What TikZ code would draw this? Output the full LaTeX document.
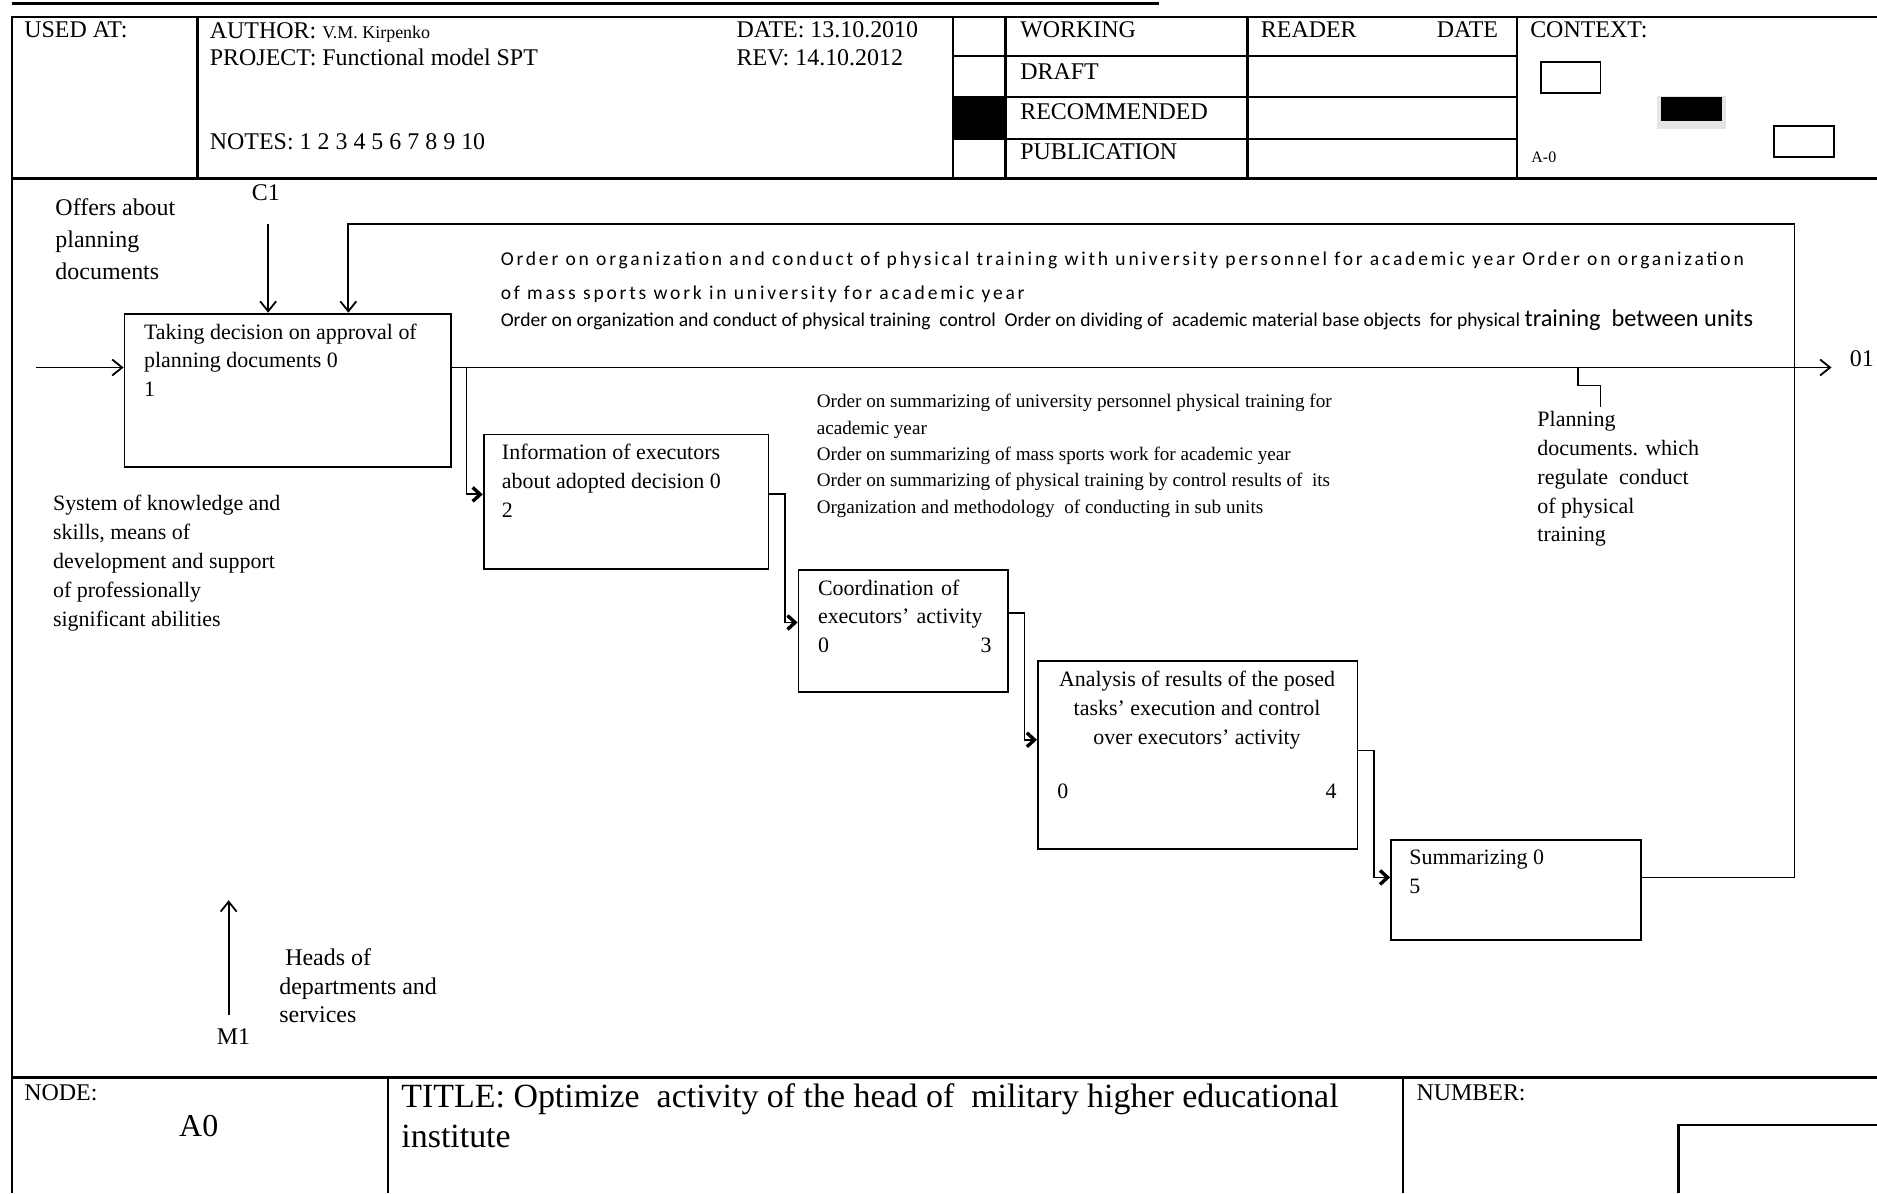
\documentclass[tikz,border=0pt]{standalone}
\usepackage{fontspec}
\setmainfont{Liberation Serif}
\newfontfamily\ordsp{Carlito}[LetterSpace=14.4]
\newfontfamily\ordcn{Carlito}
\usetikzlibrary{arrows.meta,fit}
\begin{document}
\begin{tikzpicture}[x=0.6pt,y=-0.6pt,
  frame/.style={line width=1.2pt},
  box/.style={draw,line width=0.9pt,inner sep=0pt},
  conn/.style={line width=0.9pt},
  arr/.style={conn,-{Straight Barb[length=5pt,width=8pt,line width=0.9pt]}},
  arrs/.style={conn,-{Straight Barb[length=3.8pt,width=7pt,line width=1.7pt]}},
  hd/.style={anchor=base west,inner sep=0pt,font=\fontsize{12}{14.4}\selectfont},
  txt/.style={anchor=north west,inner sep=0pt,align=left,font=\fontsize{11}{14.4}\selectfont},
  lbl/.style={anchor=base west,inner sep=0pt,font=\fontsize{11}{14.4}\selectfont},
  ord1/.style={anchor=base west,inner sep=0pt,font=\ordsp\fontsize{9.8}{11}\selectfont},
  ord2/.style={anchor=base west,inner sep=0pt,font=\ordcn\fontsize{9.8}{11}\selectfont}
]
\useasboundingbox (0,0) rectangle (1568,997);
% ---------- header frame ----------
\draw[frame] (10,3) -- (968,3);
\draw[frame] (1568,14) -- (10,14) -- (10,997);
\draw[frame] (10,149) -- (1568,149);
\foreach \xx in {165,796,840,1042,1267} \draw[frame] (\xx,14) -- (\xx,149);
\foreach \yy in {47,81,116} \draw[frame] (796,\yy) -- (1267,\yy);
\fill (796,81) rectangle (840,116);
\node[hd] (usedat) at (20,31) {USED AT:};
\node[hd] (author) at (175,32) {AUTHOR: {\fontsize{9}{10}\selectfont V.M. Kirpenko}};
\node[hd] (project) at (175,55) {PROJECT: Functional model SPT};
\node[hd] (notes) at (175,125) {NOTES: 1 2 3 4 5 6 7 8 9 10};
\node[hd] (date) at (615,31) {DATE: 13.10.2010};
\node[hd] (rev) at (615,55) {REV: 14.10.2012};
\node[hd] (working) at (852,31) {WORKING};
\node[hd] (draft) at (852,66) {DRAFT};
\node[hd] (recom) at (852,100) {RECOMMENDED};
\node[hd] (publ) at (852,133) {PUBLICATION};
\node[hd] (reader) at (1053,31) {READER};
\node[hd] (rdate) at (1200,31) {DATE};
\node[hd] (context) at (1278,31) {CONTEXT:};
\node[hd,font=\fontsize{8}{9}\selectfont] (aminus) at (1279,136) {A-0};
\node[box,fit={(1287,52) (1337,78)}] (ctx1) {};
\fill[black!10] (1384,80) rectangle (1442,108);
\node[box,fill=black,fit={(1388,82) (1438,100)}] (ctx2) {};
\node[box,fit={(1482,105) (1532,131)}] (ctx3) {};
% ---------- footer ----------
\draw[frame] (10,900) -- (1568,900);
\draw[frame] (324,900) -- (324,997);
\draw[frame] (1172,900) -- (1172,997);
\draw[frame] (1402,997) -- (1402,940) -- (1568,940);
\node[hd] (nodelbl) at (20,919) {NODE:};
\node[font=\fontsize{16}{18}\selectfont,inner sep=0pt] (azero) at (166,941) {A0};
\node[anchor=north west,inner sep=0pt,align=left,font=\fontsize{17}{19.8}\selectfont] (title) at (335,905)
  {TITLE: Optimize\ \ activity of the head of\ \ military higher educational\\institute};
\node[hd] (number) at (1183,919) {NUMBER:};
% ---------- activity boxes ----------
\node[box,fit={(104,262) (377,390)}] (b1) {};
\node[box,fit={(404,363) (642,475)}] (b2) {};
\node[box,fit={(667,476) (842,578)}] (b3) {};
\node[box,fit={(867,552) (1134,709)}] (b4) {};
\node[box,fit={(1162,702) (1371,785)}] (b5) {};
\node[txt] (t1) at (120,270) {Taking decision on approval of\\planning documents 0\\1};
\node[txt] (t2) at (419,371) {Information of executors\\about adopted decision 0\\2};
\node[txt,text width=87pt] (t3) at (683,484) {Coordination of\\executors’ activity\\0\hfill 3};
\node[txt,align=center,anchor=north,font=\fontsize{11}{14.7}\selectfont] (t4) at (1000,560) {Analysis of results of the posed\\tasks’ execution and control\\over executors’ activity};
\node[lbl] (t4a) at (883,667) {0};
\node[lbl] (t4b) at (1107,667) {4};
\node[txt] (t5) at (1177,710) {Summarizing 0\\5};
% ---------- labels ----------
\node[txt,font=\fontsize{12}{15.9}\selectfont] (offers) at (46,166) {Offers about\\planning\\documents};
\node[font=\fontsize{12}{14}\selectfont,inner sep=0pt] (c1) at (222,161) {C1};
\node[txt,font=\fontsize{11}{14.55}\selectfont] (sys) at (44,413) {System of knowledge and\\skills, means of\\development and support\\of professionally\\significant abilities};
\node[txt,font=\fontsize{12}{14.4}\selectfont] (heads) at (233,792) {\ Heads of\\departments and\\services};
\node[font=\fontsize{12}{14}\selectfont,inner sep=0pt] (m1) at (195,866) {M1};
\node[ord1] (ordA) at (418,222) {Order on organization and conduct of physical training with university personnel for academic year Order on organization};
\node[ord1] (ordB) at (418,250) {of mass sports work in university for academic year};
\node[ord2] (ordC) at (418,273) {Order on organization and conduct of physical training\ \ control\ \ Order on dividing of\ \ academic material base objects\ \ for physical {\fontsize{12.2}{13}\selectfont training\ \ between units}};
\node[txt,font=\fontsize{9.6}{13.2}\selectfont] (summ) at (682,329) {Order on summarizing of university personnel physical training for\\academic year\\Order on summarizing of mass sports work for academic year\\Order on summarizing of physical training by control results of\ \ its\\Organization and methodology\ \ of conducting in sub units};
\node[txt,font=\fontsize{11}{14.5}\selectfont] (plan) at (1284,343) {Planning\\documents. which\\regulate\ \ conduct\\of physical\\training};
\node[anchor=west,inner sep=0pt,font=\fontsize{12}{14}\selectfont] (o1) at (1545,300) {01};
% ---------- connectors ----------
\coordinate (inL) at (30,307);
\coordinate (outR) at (1530,307);
\coordinate (c1top) at (224,187);
\coordinate (fbR) at (1499,187);
\coordinate (fbL) at (291,187);
\coordinate (pdA) at (1318,307);
\coordinate (m1bot) at (191,848);
\coordinate (m1top) at (191,752);
\draw[arr] (inL) -- (b1.west |- inL);
\draw[arr] (c1top) -- (c1top |- b1.north);
\draw[arr] (b1.east |- outR) -- (outR);
\draw[arrs] (b1.east |- outR) -- ++(12,0) |- ([yshift=3.6pt]b2.west);
\draw[arrs] ([yshift=3.6pt]b2.east) -- ++(13,0) |- ([yshift=4.2pt]b3.west);
\draw[arrs] ([yshift=9pt]b3.east) -- ++(13,0) |- ([yshift=7.5pt]b4.west);
\draw[arrs] ([yshift=2.1pt]b4.east) -- ++(13,0) |- ([yshift=6.3pt]b5.west);
\draw[arr] ([yshift=6.3pt]b5.east) -| (fbR) -- (fbL) -- (fbL |- b1.north);
\draw[conn] (pdA) -- ++(0,15) -- ++(19,0) -- ++(0,18);
\draw[arr] (m1bot) -- (m1top);
\end{tikzpicture}
\end{document}
